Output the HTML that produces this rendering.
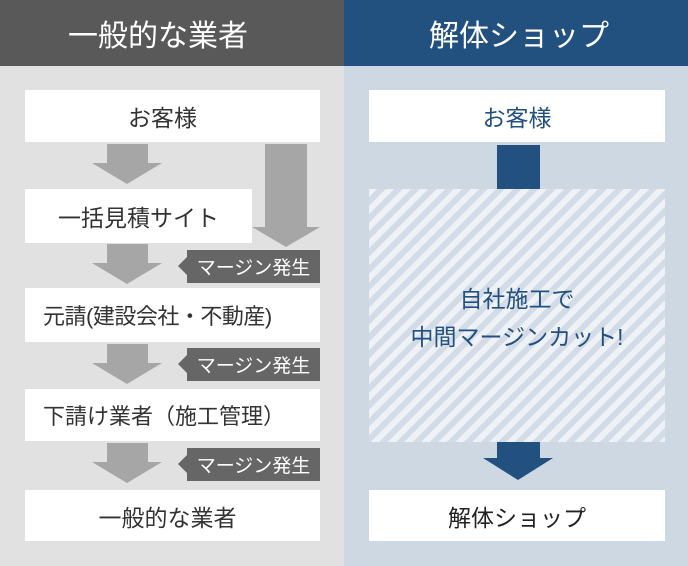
<!DOCTYPE html>
<html><head><meta charset="utf-8"><style>
*{margin:0;padding:0;box-sizing:border-box}
body{width:688px;height:566px;position:relative;overflow:hidden;font-family:"Liberation Sans","Noto Sans CJK JP",sans-serif;background:#fff}
.a{position:absolute}
.box{position:absolute;background:#fff;display:flex;align-items:center;font-size:23px;color:#333}
.hd{position:absolute;top:0;height:66px;color:#fff;font-size:30px;display:flex;align-items:center;justify-content:center}
.tag{position:absolute;left:187px;width:133px;height:33px;background:#666;color:#fff;font-size:19px;display:flex;align-items:center;justify-content:center}
.tag:before{content:"";position:absolute;left:-9px;top:7px;border-right:9px solid #666;border-top:9px solid transparent;border-bottom:9px solid transparent}
.shaft{position:absolute;background:#a6a6a6}
.head{position:absolute;width:0;height:0;border-left:35px solid transparent;border-right:35px solid transparent;border-top:21px solid #a6a6a6}
</style></head><body>
<div class="a" style="left:0;top:66px;width:344px;height:500px;background:#e1e1e1"></div>
<div class="a" style="left:344px;top:66px;width:344px;height:500px;background:#cdd8e3"></div>
<div class="hd" style="left:0;width:344px;background:#595959;padding-right:28px">一般的な業者</div>
<div class="hd" style="left:344px;width:344px;background:#22507f;padding-left:6px">解体ショップ</div>

<div class="box" style="left:25px;top:90px;width:295px;height:52px;justify-content:center;padding-right:20px">お客様</div>
<div class="shaft" style="left:107px;top:144px;width:41px;height:20px"></div><div class="head" style="left:92px;top:163px"></div>
<div class="shaft" style="left:265px;top:144px;width:42px;height:84px"></div><div class="head" style="left:252px;top:227px;border-left-width:34px;border-right-width:34px;border-top-width:20px"></div>
<div class="box" style="left:25px;top:189px;width:227px;height:54px;padding-left:33px">一括見積サイト</div>
<div class="shaft" style="left:107px;top:244px;width:41px;height:20px"></div><div class="head" style="left:92px;top:263px"></div>
<div class="tag" style="top:250px">マージン発生</div>
<div class="box" style="left:25px;top:288px;width:295px;height:54px;padding-left:18px;font-size:22px;letter-spacing:-0.5px">元請(建設会社・不動産)</div>
<div class="shaft" style="left:107px;top:344px;width:41px;height:20px"></div><div class="head" style="left:92px;top:363px"></div>
<div class="tag" style="top:348px">マージン発生</div>
<div class="box" style="left:25px;top:389px;width:295px;height:52px;padding-left:18px;font-size:22px">下請け業者（施工管理）</div>
<div class="shaft" style="left:107px;top:443px;width:41px;height:20px"></div><div class="head" style="left:92px;top:462px"></div>
<div class="tag" style="top:448px">マージン発生</div>
<div class="box" style="left:25px;top:490px;width:295px;height:51px;justify-content:center;padding-right:10px">一般的な業者</div>

<div class="box" style="left:369px;top:90px;width:296px;height:52px;justify-content:center;color:#22507f">お客様</div>
<div class="a" style="left:497px;top:145px;width:43px;height:44px;background:#22507f"></div>
<div class="a" style="left:369px;top:189px;width:296px;height:253px;background:repeating-linear-gradient(135deg,#eef2f6 0 6px,#d3dce6 6px 12px)"></div>
<div class="a" style="left:369px;top:280px;width:296px;text-align:center;color:#22507f;font-size:23px;line-height:38px">自社施工で<br>中間マージンカット!</div>
<div class="a" style="left:497px;top:442px;width:43px;height:17px;background:#22507f"></div>
<div class="head" style="left:483px;top:458px;border-top-color:#22507f;border-top-width:22px"></div>
<div class="box" style="left:369px;top:490px;width:296px;height:51px;justify-content:center;color:#222">解体ショップ</div>
</body></html>
